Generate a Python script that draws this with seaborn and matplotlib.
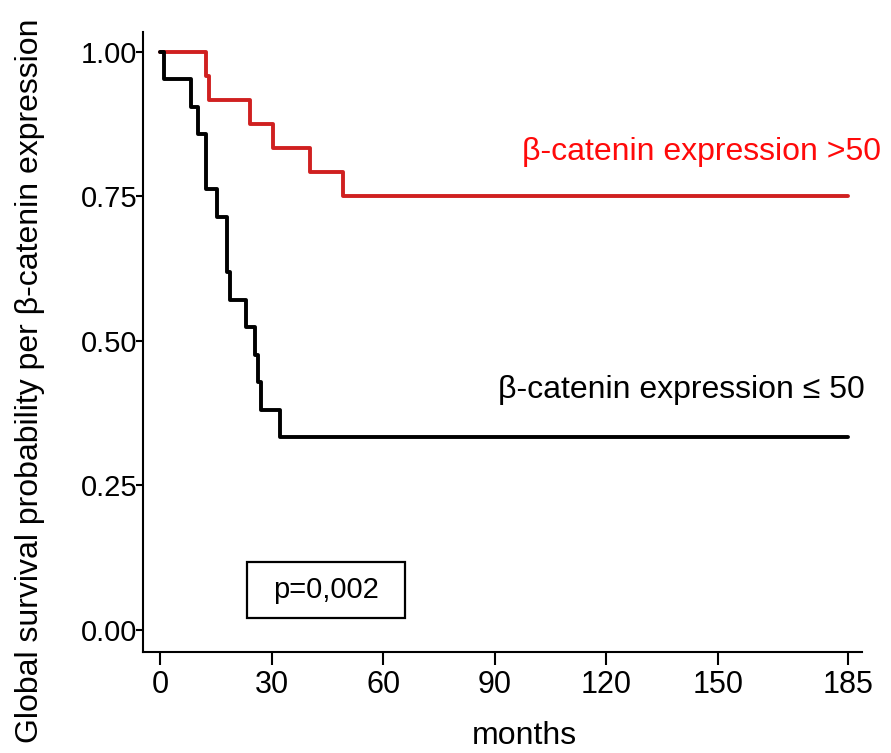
import pandas as pd
import seaborn as sns
import matplotlib.pyplot as plt
from matplotlib.patches import Rectangle


# Kaplan-Meier steps (months, survival)
HIGH_LABEL = 'β-catenin expression >50'
LOW_LABEL = 'β-catenin expression ≤ 50'

high_months = [0, 12.4, 13.2, 24.2, 30.4, 40.3, 49.2, 185]
high_surv = [1.0, 0.958, 0.917, 0.875, 0.833, 0.792, 0.750, 0.750]

low_months = [0, 1.0, 8.3, 10.2, 12.4, 15.3, 18.1, 18.8, 23.1, 25.5, 26.3, 27.2, 32.3, 185]
low_surv = [1.0, 0.952, 0.905, 0.857, 0.762, 0.714, 0.619, 0.571, 0.524, 0.476,
            0.429, 0.381, 0.333, 0.333]

x_ticks = [0, 30, 60, 90, 120, 150, 185]
y_ticks = [0.00, 0.25, 0.50, 0.75, 1.00]
p_text = 'p=0,002'

RED_LINE = '#d02020'
RED_TEXT = '#ff0a0a'


def main():
    df = pd.concat([
        pd.DataFrame({'months': high_months, 'surv': high_surv, 'group': HIGH_LABEL}),
        pd.DataFrame({'months': low_months, 'surv': low_surv, 'group': LOW_LABEL}),
    ], ignore_index=True)

    sns.set_style('ticks')
    plt.rcParams['font.family'] = ['Liberation Sans', 'DejaVu Sans']
    plt.rcParams['text.color'] = 'black'

    fig = plt.figure(figsize=(8.91, 7.53), dpi=100)
    ax = fig.add_axes([0.1605, 0.1341, 0.807, 0.8234])

    sns.lineplot(data=df, x='months', y='surv', hue='group',
                 palette={HIGH_LABEL: RED_LINE, LOW_LABEL: 'black'},
                 drawstyle='steps-post', linewidth=2.8, legend=False,
                 estimator=None, sort=False, ax=ax)

    ax.set_xlim(-4.6, 188.8)
    ax.set_ylim(-0.038, 1.034)
    ax.set_xticks(x_ticks)
    ax.set_yticks(y_ticks)
    ax.set_yticklabels([f'{v:.2f}' for v in y_ticks])
    sns.despine(ax=ax)
    for side in ['left', 'bottom']:
        ax.spines[side].set_linewidth(1.5)
        ax.spines[side].set_color('black')
    ax.tick_params(axis='x', length=9, width=1.5, pad=4, labelsize=22, colors='black')
    ax.tick_params(axis='y', length=5, width=1.5, pad=-1, labelsize=21, colors='black')

    ax.set_xlabel('')
    ax.set_ylabel('')
    fig.text(524 / 891, 1 - 736 / 753, 'months', ha='center', va='center', fontsize=23)
    fig.text(30 / 891, 1 - 381 / 753, 'Global survival probability per β-catenin expression',
             rotation=90, ha='center', va='center', fontsize=23)

    ax.text(0.527, 0.7935, HIGH_LABEL, color=RED_TEXT, fontsize=23,
            transform=ax.transAxes, va='baseline', ha='left')
    ax.text(0.4937, 0.4097, LOW_LABEL, color='black', fontsize=23,
            transform=ax.transAxes, va='baseline', ha='left')

    ax.add_patch(Rectangle((0.1446, 0.0548), 0.2198, 0.0902, transform=ax.transAxes,
                           fill=False, edgecolor='black', linewidth=1.6))
    ax.text(0.2545, 0.100, p_text, fontsize=21, transform=ax.transAxes,
            ha='center', va='center')

    fig.savefig('out.png', dpi=100)


if __name__ == "__main__":
    main()
